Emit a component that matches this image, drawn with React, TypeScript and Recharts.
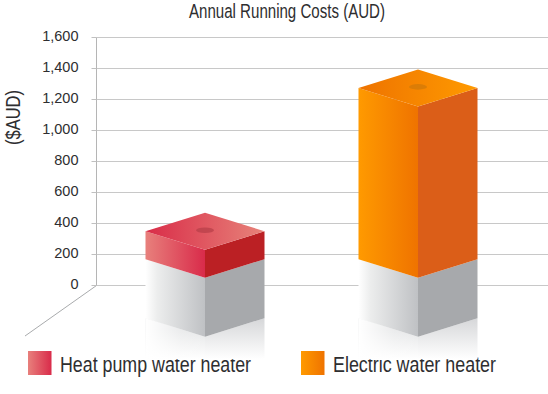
import { BarChart, Bar, XAxis, YAxis, CartesianGrid } from 'recharts'

const categories = ['Heat pump water heater', 'Electric water heater']
const runningCosts = [350, 1275]
const yTicks = [0, 200, 400, 600, 800, 1000, 1200, 1400, 1600]

const palettes = [
  { id: 'red', topFrom: '#d92c48', topTo: '#e7837a', frontFrom: '#e8807c', frontTo: '#d92b4a', side: '#bb2024', dot: '#b8404a' },
  { id: 'orange', topFrom: '#ee7300', topTo: '#ff9a00', frontFrom: '#ff9a00', frontTo: '#ef7300', side: '#db5e18', dot: '#d27a08' },
]

const legendItems = [
  { swatchX: 28, textX: 60, textWidth: 191 },
  { swatchX: 301, textX: 333, textWidth: 163 },
]

const chartData = categories.map((name, i) => ({ name, cost: runningCosts[i] }))

const TEXT_FONT = '"Liberation Sans", sans-serif'
const DEPTH = 18.5 // half height of the top diamond
const PLINTH = 59 // grey block height
const PX_PER_200 = 31
const BLOCK_FLOOR = 170 // coloured block starts here on the value axis

function pts(...p: number[][]) {
  return p.map((q) => q.join(',')).join(' ')
}

function Block3D(props: any) {
  const { x, y, width, height, index } = props
  const c = palettes[index]
  const mid = x + width / 2
  const right = x + width
  const zero = y + height
  const floor = zero - (BLOCK_FLOOR / 200) * PX_PER_200
  const base = floor + PLINTH
  const reflectEnd = base + 41

  return (
    <g>
      {/* reflection under the plinth */}
      <polygon points={pts([x, base], [mid, base + DEPTH], [mid, reflectEnd], [x, reflectEnd])} fill="url(#reflectLeft)" />
      <polygon points={pts([x, base], [mid, base + DEPTH], [mid, reflectEnd], [x, reflectEnd])} fill="url(#reflectFade)" />
      <polygon points={pts([mid, base + DEPTH], [right, base], [right, reflectEnd], [mid, reflectEnd])} fill="url(#reflectRight)" />
      {/* grey plinth */}
      <polygon points={pts([x, floor], [mid, floor + DEPTH], [mid, base + DEPTH], [x, base])} fill="url(#plinthFront)" />
      <polygon points={pts([mid, floor + DEPTH], [right, floor], [right, base], [mid, base + DEPTH])} fill="#a7a9ac" />
      {/* coloured block */}
      <polygon points={pts([x, y], [mid, y + DEPTH], [mid, floor + DEPTH], [x, floor])} fill={`url(#front-${c.id})`} />
      <polygon points={pts([mid, y + DEPTH], [right, y], [right, floor], [mid, floor + DEPTH])} fill={c.side} />
      <polygon points={pts([x, y], [mid, y - DEPTH], [right, y], [mid, y + DEPTH])} fill={`url(#top-${c.id})`} />
      <ellipse cx={mid} cy={y - 1} rx={9} ry={2.8} fill={c.dot} opacity={0.75} />
    </g>
  )
}

export default function App() {
  return (
    <div style={{ position: 'absolute', left: 0, top: 0, width: 548, height: 394, background: '#fff' }}>
      <BarChart
        width={548}
        height={394}
        data={chartData}
        barSize={119}
        margin={{ top: 37.5, right: 0, bottom: 108.5, left: 0 }}
      >
        <defs>
          <linearGradient id="plinthFront" x1="0" y1="0" x2="1" y2="0">
            <stop offset="0" stopColor="#ffffff" />
            <stop offset="0.2" stopColor="#eceded" />
            <stop offset="1" stopColor="#bfc1c4" />
          </linearGradient>
          <linearGradient id="reflectLeft" x1="0" y1="0" x2="0" y2="1">
            <stop offset="0.3" stopColor="#e6e7e8" />
            <stop offset="1" stopColor="#ffffff" />
          </linearGradient>
          <linearGradient id="reflectFade" x1="0" y1="0" x2="1" y2="0">
            <stop offset="0" stopColor="#ffffff" stopOpacity={1} />
            <stop offset="0.6" stopColor="#ffffff" stopOpacity={0.2} />
            <stop offset="1" stopColor="#ffffff" stopOpacity={0} />
          </linearGradient>
          <linearGradient id="reflectRight" x1="0" y1="0" x2="0" y2="1">
            <stop offset="0" stopColor="#d6d7d9" />
            <stop offset="1" stopColor="#ffffff" />
          </linearGradient>
          {palettes.map((c) => (
            <linearGradient key={`top-${c.id}`} id={`top-${c.id}`} x1="0" y1="0" x2="1" y2="0">
              <stop offset="0" stopColor={c.topFrom} />
              <stop offset="1" stopColor={c.topTo} />
            </linearGradient>
          ))}
          {palettes.map((c) => (
            <linearGradient key={`front-${c.id}`} id={`front-${c.id}`} x1="0" y1="0" x2="1" y2="0">
              <stop offset="0" stopColor={c.frontFrom} />
              <stop offset="1" stopColor={c.frontTo} />
            </linearGradient>
          ))}
        </defs>
        <text
          x={189}
          y={18}
          textLength={196}
          lengthAdjust="spacingAndGlyphs"
          fontFamily={TEXT_FONT}
          fontSize={20.5}
          fill="#2e2e30"
        >
          Annual Running Costs (AUD)
        </text>
        <text
          transform="translate(19.5,145) rotate(-90)"
          textLength={55}
          lengthAdjust="spacingAndGlyphs"
          fontFamily={TEXT_FONT}
          fontSize={20.5}
          fill="#2e2e30"
        >
          ($AUD)
        </text>
        <line x1={96.5} y1={285.5} x2={25} y2={336} stroke="#a9abad" strokeWidth={1} />
        <CartesianGrid vertical={false} stroke="#c8c8c8" strokeWidth={1.2} />
        <XAxis dataKey="name" hide padding={{ left: 2, right: 23.5 }} />
        <YAxis
          width={96.5}
          domain={[0, 1600]}
          ticks={yTicks}
          interval={0}
          axisLine={{ stroke: '#b5b5b5' }}
          tickLine={{ stroke: '#c0c0c0' }}
          tickSize={5}
          tickMargin={13}
          tickFormatter={(v: number) => v.toLocaleString('en-US')}
          tick={{ fontFamily: TEXT_FONT, fontSize: 14.5, fill: '#2e2e30', dy: -2 }}
        />
        <Bar dataKey="cost" shape={Block3D} isAnimationActive={false} />
        {categories.map((name, i) => (
          <g key={name}>
            <rect x={legendItems[i].swatchX} y={351} width={23.5} height={24} fill={`url(#front-${palettes[i].id})`} />
            <text
              x={legendItems[i].textX}
              y={371.5}
              textLength={legendItems[i].textWidth}
              lengthAdjust="spacingAndGlyphs"
              fontFamily={TEXT_FONT}
              fontSize={21.5}
              fill="#2e2e30"
            >
              {name}
            </text>
          </g>
        ))}
      </BarChart>
    </div>
  )
}
